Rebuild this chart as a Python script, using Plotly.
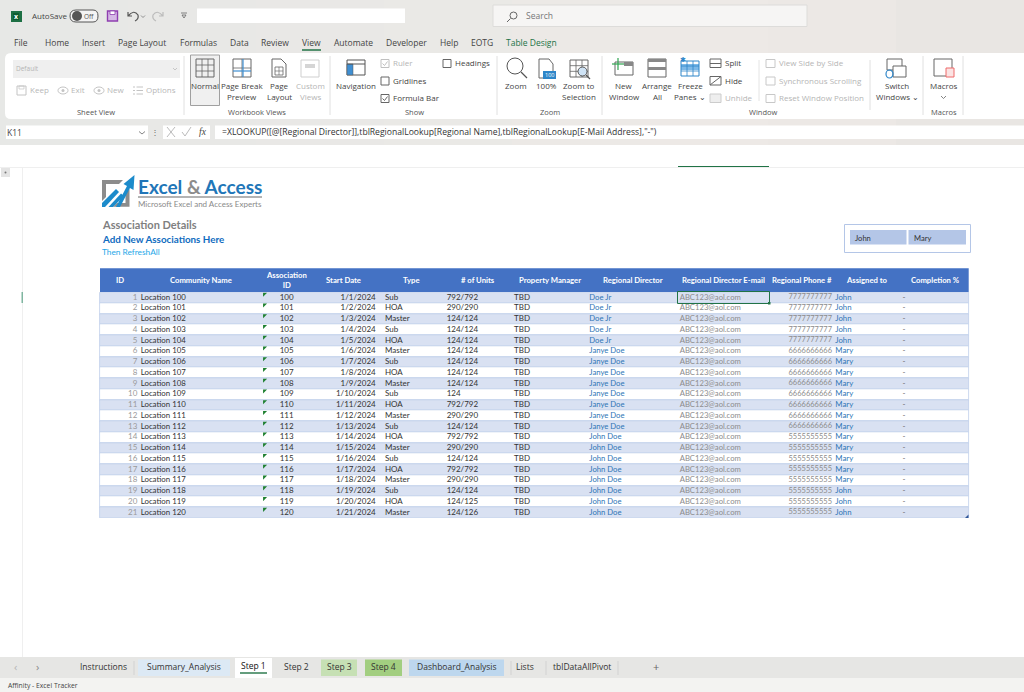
import plotly.graph_objects as go

# ---------- table data ----------
ids = list(range(1, 22))
communities = ["Location 100","Location 101","Location 102","Location 103","Location 104","Location 105","Location 106",
               "Location 107","Location 108","Location 109","Location 110","Location 111","Location 112","Location 113",
               "Location 114","Location 115","Location 116","Location 117","Location 118","Location 119","Location 120"]
assoc_ids = ["100","101","102","103","104","105","106","107","108","109","110","111","112","113","114","115","116","117","118","119","120"]
start_dates = ["1/1/2024","1/2/2024","1/3/2024","1/4/2024","1/5/2024","1/6/2024","1/7/2024","1/8/2024","1/9/2024","1/10/2024",
               "1/11/2024","1/12/2024","1/13/2024","1/14/2024","1/15/2024","1/16/2024","1/17/2024","1/18/2024","1/19/2024","1/20/2024","1/21/2024"]
types = ["Sub","HOA","Master","Sub","HOA","Master","Sub","HOA","Master","Sub","HOA","Master","Sub","HOA","Master","Sub","HOA","Master","Sub","HOA","Master"]
units = ["792/792","290/290","124/124","124/124","124/124","124/124","124/124","124/124","124/124","124","792/792","290/290",
         "124/124","792/792","290/290","124/124","792/792","290/290","124/124","124/125","124/126"]
managers = ["TBD"] * 21
directors = ["Doe Jr"] * 5 + ["Janye Doe"] * 8 + ["John Doe"] * 8
emails = ["ABC123@aol.com"] * 21
phones = ["7777777777"] * 5 + ["6666666666"] * 8 + ["5555555555"] * 8
assigned = ["John"] * 5 + ["Mary"] * 13 + ["John"] * 3
completion = ["-"] * 21
headers = ["ID","Community Name","Association<br>ID","Start Date","Type","# of Units","Property Manager","Regional Director",
           "Regional Director E-mail","Regional Phone #","Assigned to","Completion %"]
tabs = ["Instructions","Summary_Analysis","Step 1","Step 2","Step 3","Step 4","Dashboard_Analysis","Lists","tblDataAllPivot"]
menu = ["File","Home","Insert","Page Layout","Formulas","Data","Review","View","Automate","Developer","Help","EOTG","Table Design"]

# ---------- layout helpers ----------
W, H = 1024, 692
TL, TR, TOP, BOT = 100, 968.7, 292.2, 518.0
XL, UI = "Lato", "Open Sans"
shapes, notes = [], []

def rect(x0, y0, x1, y1, fill=None, line=None, lw=1, layer="below"):
    shapes.append(dict(type="rect", xref="x", yref="y", x0=x0, y0=y0, x1=x1, y1=y1, layer=layer,
                       fillcolor=fill or "rgba(0,0,0,0)", line=dict(color=line or "rgba(0,0,0,0)", width=lw if line else 0)))

def seg(x0, y0, x1, y1, color="#888", lw=1, layer="below"):
    shapes.append(dict(type="line", xref="x", yref="y", x0=x0, y0=y0, x1=x1, y1=y1, layer=layer, line=dict(color=color, width=lw)))

def path(d, fill=None, line=None, lw=1, layer="below"):
    shapes.append(dict(type="path", xref="x", yref="y", path=d, layer=layer, fillcolor=fill or "rgba(0,0,0,0)",
                       line=dict(color=line or "rgba(0,0,0,0)", width=lw if line else 0)))

def circle(x0, y0, x1, y1, fill=None, line=None, lw=1):
    shapes.append(dict(type="circle", xref="x", yref="y", x0=x0, y0=y0, x1=x1, y1=y1, layer="below",
                       fillcolor=fill or "rgba(0,0,0,0)", line=dict(color=line or "rgba(0,0,0,0)", width=lw if line else 0)))

def txt(x, y, s, size=8.5, color="#444", anchor="center", font=UI, bold=False):
    if bold:
        s = "<b>" + s + "</b>"
    if font == UI:
        y -= 0.6
    notes.append(dict(x=x, y=y, xref="x", yref="y", text=s, showarrow=False, xanchor=anchor, yanchor="middle", borderpad=0, borderwidth=0,
                      font=dict(size=size, color=color, family=font), align="center"))

DARK = "#444444"

# window background strips (slight warm drift to the right)
strips = ["#E7E8E6","#E8E8E6","#E9E8E6","#EAE9E6","#ECE9E6","#EDE9E6","#ECE8E5","#E9E6E3"]
for i, c in enumerate(strips):
    rect(i * W / 8, 0, (i + 1) * W / 8, 145, fill=c)

# title bar
rect(11, 11, 22, 22, fill="#1D7044")
rect(13, 13, 19, 20, fill="#0E5C2F")
txt(16, 16.8, "x", 7, "white", bold=True)
txt(32, 16.3, "AutoSave", 8, DARK, "left")
path("M 76 10 L 93 10 Q 98 10 98 16 Q 98 22 93 22 L 76 22 Q 70 22 70 16 Q 70 10 76 10 Z", fill="#F4F4F4", line="#555")
circle(72, 11, 82, 21, fill="#555")
txt(89, 16.6, "Off", 6.5, "#555")
rect(107.5, 11, 117.5, 21, fill="#D6B8E6", line="#8E3EB0", lw=1.4)
rect(110, 11, 115, 14.5, fill="white", line="#8E3EB0", lw=0.8)
path("M 128 12 L 128 16 L 132 16 M 128 16 Q 134 9 138 15 Q 139 19 135 21", line="#555", lw=1.2)
path("M 141 15.5 L 143 17.5 L 145 15.5", line="#777", lw=0.8)
path("M 163 12 L 163 16 L 159 16 M 163 16 Q 157 9 153 15 Q 152 19 156 21", line="#BBB", lw=1.2)
path("M 181 13 L 187 13 M 182 15 L 186 15 L 184 18 Z", line="#666", lw=0.8)
rect(197, 8.5, 405, 23, fill="white")
rect(493, 5, 807, 26.5, fill="#F6F5F4", line="#DDDCDA")
circle(510, 12, 517, 19, line="#666")
seg(510.5, 18.5, 507, 22, "#666")
txt(526, 16.5, "Search", 8.5, "#777", "left")

# menu row
menu_x = [21, 57, 93, 142, 198, 239, 275, 311, 353, 406, 449, 482, 531]
for m, x in zip(menu, menu_x):
    c = "#217346" if m == "Table Design" else DARK
    txt(x, 43, m, 8.5, c)
seg(302, 50, 321, 50, "#217346", 1.5)

# ribbon body
path("M 1024 53 L 11 53 Q 5 53 5 59 L 5 113 Q 5 119 11 119 L 1024 119 Z", fill="white")

# ribbon: sheet view
rect(13, 60, 180, 78, fill="#EFEFEF")
txt(16, 69, "Default", 6.5, "#B5B5B5", "left")
path("M 173 68 L 175 70 L 177 68", line="#BBB", lw=0.8)
for label, x in [("Keep", 30), ("Exit", 71), ("New", 107), ("Options", 146)]:
    txt(x, 90.5, label, 8, "#B8B8B8", "left")
rect(17, 86, 26, 95, line="#C4C4C4")
rect(19, 86, 24, 89, line="#C4C4C4", lw=0.7)
circle(58, 87, 68, 94, line="#C4C4C4"); circle(61.5, 89, 64.5, 92, fill="#C4C4C4")
circle(94, 87, 104, 94, line="#C4C4C4"); circle(97.5, 89, 100.5, 92, fill="#C4C4C4")
for y in [87, 90.5, 94]:
    seg(133, y, 135, y, "#C4C4C4"); seg(136.5, y, 143, y, "#C4C4C4")
# separators
for x in [184, 330, 497, 602, 923, 963]:
    seg(x, 56, x, 115, "#E0E0E0")
seg(759, 60, 759, 101, "#E4E4E4")
seg(870, 60, 870, 110, "#E0E0E0")
for label, x in [("Sheet View", 96), ("Workbook Views", 257), ("Show", 414), ("Zoom", 550), ("Window", 763), ("Macros", 944)]:
    txt(x, 113, label, 7.5, "#555")

# grid icon helper
def grid(x0, y0, x1, y1, nx, ny, color="#666", lw=1):
    rect(x0, y0, x1, y1, line=color, lw=lw)
    for i in range(1, nx):
        x = x0 + (x1 - x0) * i / nx
        seg(x, y0, x, y1, color, lw * 0.8)
    for j in range(1, ny):
        y = y0 + (y1 - y0) * j / ny
        seg(x0, y, x1, y, color, lw * 0.8)

# workbook views
rect(190.5, 55, 219.5, 105.5, fill="#F0F0F0", line="#A0A0A0")
grid(196, 59, 214, 77, 3, 3)
txt(205, 86, "Normal", 8, DARK)
grid(233, 59, 251, 77, 2, 2)
seg(233, 71, 251, 71, "#3F8FD2", 1.2); seg(243, 59, 243, 77, "#3F8FD2", 1.2)
txt(242, 86, "Page Break", 8, DARK); txt(242, 97, "Preview", 8, DARK)
path("M 272 59 L 281 59 L 286 64 L 286 77 L 272 77 Z", line="#666", fill="white")
grid(275, 67, 283, 75, 2, 2, lw=0.8)
txt(279, 86, "Page", 8, DARK); txt(279, 97, "Layout", 8, DARK)
grid(301, 60, 319, 77, 1, 1, color="#CFCFCF")
rect(305, 64, 315, 68, fill="#D5D5D5")
txt(310, 86, "Custom", 8, "#B5B5B5"); txt(310, 97, "Views", 8, "#B5B5B5")

# show
rect(347, 60, 365, 75, fill="white", line="#555")
rect(347, 64, 353, 75, fill="#3F8FD2", line="#555", lw=0.5)
seg(347, 64, 365, 64, "#555")
txt(356, 86, "Navigation", 8, DARK)
def check(x, y, on, color):
    rect(x, y, x + 8, y + 8, line=color, fill="white")
    if on:
        path(f"M {x+1.5} {y+4} L {x+3.5} {y+6} L {x+6.5} {y+2}", line=color, lw=1)
check(381, 59.5, True, "#C0C0C0"); txt(393, 63.5, "Ruler", 8, "#B5B5B5", "left")
check(381, 77, False, "#666"); txt(393, 81, "Gridlines", 8, DARK, "left")
check(381, 94.5, True, "#666"); txt(393, 98.5, "Formula Bar", 8, DARK, "left")
check(443, 59.5, False, "#666"); txt(455, 63.5, "Headings", 8, DARK, "left")

# zoom
circle(507, 58, 523, 74, line="#555")
seg(521, 72, 527, 78, "#555", 1.2)
txt(516, 86, "Zoom", 8, DARK)
path("M 539 59 L 549 59 L 553 64 L 553 78 L 539 78 Z", line="#666", fill="white")
rect(543, 71, 556, 79, fill="#2E86C9")
txt(549.5, 75.5, "100", 5.5, "white")
txt(546, 86, "100%", 8, DARK)
grid(570, 60, 588, 77, 3, 3)
circle(578, 67, 587, 76, fill="#CFE3F5", line="#555")
seg(586, 75, 590, 79, "#555", 1.2)
txt(579, 86, "Zoom to", 8, DARK); txt(579, 97, "Selection", 8, DARK)

# window
rect(615, 62, 633, 75, line="#666", fill="white")
rect(624, 62, 633, 66, fill="#888")
seg(618, 58, 618, 70, "#2EA44F", 1.2); seg(612, 64, 624, 64, "#2EA44F", 1.2)
txt(624, 86, "New", 8, DARK); txt(624, 97, "Window", 8, DARK)
rect(648, 59, 666, 77, line="#666", fill="white")
rect(648, 59, 666, 62, fill="#888"); rect(648, 67, 666, 70, fill="#888")
txt(657, 86, "Arrange", 8, DARK); txt(657, 97, "All", 8, DARK)
rect(681, 64, 699, 70, fill="#7DB9E8")
grid(681, 61, 699, 76, 3, 3, color="#2E86C9")
txt(683, 59.6, "✱", 7, "#2E86C9")
txt(690, 86, "Freeze", 8, DARK); txt(690, 97, "Panes ⌄", 8, DARK)
rect(710, 59, 721, 67.5, line="#666"); seg(710, 63.5, 721, 63.5, "#666")
txt(725, 63.5, "Split", 8, DARK, "left")
rect(710, 76.5, 721, 85, line="#666"); seg(710, 85, 721, 76.5, "#666")
txt(725, 81, "Hide", 8, DARK, "left")
rect(710, 94, 721, 102.5, line="#CCC", fill="#EEE")
txt(725, 98.5, "Unhide", 8, "#B5B5B5", "left")
for y, label in [(63.5, "View Side by Side"), (81, "Synchronous Scrolling"), (98.5, "Reset Window Position")]:
    rect(766, y - 4, 775, y + 4, line="#C8C8C8")
    txt(779, y, label, 8, "#B5B5B5", "left")
rect(887, 59, 902, 70, line="#666", fill="white")
rect(893, 66, 906, 77, line="#666", fill="white")
circle(886, 70, 893, 78, line="#2E86C9", lw=1.2)
txt(897, 86, "Switch", 8, DARK); txt(897, 97, "Windows ⌄", 8, DARK)
rect(934, 59, 952, 76, line="#666", fill="white")
rect(946, 68, 954, 77, line="#EE6A6A", fill="#FBE3E3")
txt(944, 86.5, "Macros", 8, DARK)
path("M 941 96 L 943.5 98.5 L 946 96", line="#666", lw=0.8)

# formula bar
rect(6, 125.5, 148, 139, fill="white")
txt(7, 132.8, "K11", 8.5, DARK, "left")
path("M 139 131.5 L 142 134 L 145 131.5", line="#666", lw=0.8)
txt(155, 132.5, "⋮", 8, "#666")
rect(163, 125.5, 210, 139, fill="white")
seg(167, 127, 175, 137, "#BBB"); seg(175, 127, 167, 137, "#BBB")
path("M 182 132 L 185 136 L 191 127", line="#BBB", lw=1)
txt(203, 132, "<i>fx</i>", 9.5, "#444", font="Liberation Serif")
rect(215, 125.5, 1024, 139, fill="white")
txt(222, 132.8, '=XLOOKUP([@[Regional Director]],tblRegionalLookup[Regional Name],tblRegionalLookup[E-Mail Address],"-")', 8.6, "#333", "left")

# sheet chrome
seg(0, 167.5, W, 167.5, "#EFEFEF")
seg(22.5, 167, 22.5, 657, "#EFEFEF")
seg(678, 166.5, 769, 166.5, "#217346", 1)
rect(21.5, 292, 23, 303, fill="#7FB5A0")
rect(1, 168, 10, 177, fill="#E4E4E4")
circle(4.5, 171.5, 6.5, 173.5, fill="#777")

# logo
GR, BL = "#8C8C8C", "#1C8BCB"
path("M 102 180 L 123 180 L 119 184 L 106 184 L 106 197 L 102 201 Z", fill=GR)
path("M 129.5 189 L 129.5 206.7 L 113 206.7 L 117 203 L 125.5 203 L 125.5 193 Z", fill=GR)
path("M 102 203 L 116 189 L 119 192 L 105 207 L 102 207 Z", fill=BL)
path("M 108.5 207 L 121 193.5 L 124 196 L 113 207 Z", fill=BL)
path("M 116 207 L 127 186 L 123.5 184 L 134.5 175 L 133.5 190 L 130 188 L 120 207 Z", fill=BL)
txt(138, 186.5, 'Excel <span style="color:#8C8C8C">&amp;</span> Access', 19, "#2176B8", "left", font=XL, bold=True)
seg(138, 197, 262, 197, "#9A9A9A", 1.4)
txt(138, 203.5, "Microsoft Excel and Access Experts", 8, "#8A8A8A", "left", font=XL)

# titles
txt(101.5, 224, "Association Details", 11, "#7F7F7F", "left", font=XL, bold=True)
txt(101.5, 239, "Add New Associations Here", 9.8, "#0F6CC0", "left", font=XL, bold=True)
txt(101.5, 252, "Then RefreshAll", 8.3, "#1FA8E8", "left", font=XL)

# slicer
rect(844.5, 224.5, 970.5, 252.5, fill="white", line="#B4C6E7")
rect(850, 230, 906.5, 244.5, fill="#B4C6E7")
rect(908.5, 230, 966, 244.5, fill="#B4C6E7")
txt(855, 237.5, "John", 7.6, "#333", "left", font=XL)
txt(914, 237.5, "Mary", 7.6, "#333", "left", font=XL)

# table header
rect(TL, 268.3, TR, TOP, fill="#4472C4")
header_x = [119.7, 201, 286.7, 343, 411, 478, 550, 632.7, 723, 801.7, 867, 934.7]
for h, x in zip(headers, header_x):
    txt(x, 280, h, 7.7, "white", font=XL, bold=True)

# selected-cell frame and handles
rect(677.5, 291.5, 769.5, 303.5, line="#217346", lw=1, layer="above")
rect(768, 302, 770.5, 304.5, fill="#217346", layer="above")
path("M 968.5 514.5 L 968.5 518 L 965 518 Z", fill="#2F5597", layer="above")

# tabs
rect(0, 657, W, 678, fill="#E6E6E4")
rect(0, 678, W, H, fill="#F3F3F1")
txt(15, 667.5, "‹", 11, "#B5B5B5"); txt(37, 667.5, "›", 11, "#888")
tab_x = [103, 184, 253.5, 296, 339, 383.5, 456.5, 525, 582]
tab_box = {"Summary_Analysis": (138, 230, "#DCE9F5"), "Step 1": (235, 272, "white"), "Step 3": (321, 357, "#C6E0B4"),
           "Step 4": (365, 402, "#A2CE80"), "Dashboard_Analysis": (409, 504, "#BDD7EE")}
for t, x in zip(tabs, tab_x):
    if t in tab_box:
        a, b, c = tab_box[t]
        rect(a, 659.5 if t != "Step 1" else 658, b, 678 if t == "Step 1" else 676, fill=c)
    txt(x, 667.5 if t != "Step 1" else 666.5, t, 8.5, "#333" if t != "Step 1" else "#111", font=UI)
seg(240, 673, 267, 673, "#217346", 1.4)
for x in [134, 511, 546, 618]:
    seg(x, 661, x, 675, "#D2D2D2")
txt(656, 667, "+", 11, "#666")
txt(8, 686.5, "Affinity - Excel Tracker", 6.8, "#444", "left")

# ---------- table marks (bound to a row axis) ----------
rows = ids
fig = go.Figure()
band = ["#D9E1F2" if r % 2 else "#FFFFFF" for r in rows]
fig.add_trace(go.Bar(y=rows, x=[TR - TL] * 21, base=TL, orientation="h", width=1, yaxis="y2",
                     marker=dict(color=band, line=dict(color="#BFCEEA", width=0.8)), showlegend=False))

columns = [
    (ids, 137.3, "middle left", "#9A9A9A", 8),
    (communities, 140.7, "middle right", "#333333", 7.85),
    (assoc_ids, 286.7, "middle center", "#333333", 8),
    (start_dates, 375.7, "middle left", "#333333", 8),
    (types, 385, "middle right", "#333333", 8),
    (units, 446.7, "middle right", "#333333", 8),
    (managers, 514, "middle right", "#333333", 8),
    (directors, 589.3, "middle right", "#2E75B6", 7.7),
    (emails, 679.7, "middle right", "#8C8C8C", 7.7),
    (phones, 832, "middle left", "#8C8C8C", 7.5),
    (assigned, 835.3, "middle right", "#2E75B6", 7.8),
    (completion, 904, "middle center", "#666666", 8),
]
for values, x, pos, color, size in columns:
    fig.add_trace(go.Scatter(x=[x] * len(values), y=rows, text=[str(v) for v in values], mode="text", yaxis="y2",
                             textposition=pos, textfont=dict(family=XL, size=size, color=color), showlegend=False, cliponaxis=False))
fig.add_trace(go.Scatter(x=[264.4] * 21, y=[r - 0.32 for r in rows], mode="markers", yaxis="y2", showlegend=False,
                         marker=dict(symbol="triangle-nw", size=4.5, color="#1E8030", line=dict(width=0))))

fig.update_layout(
    width=W, height=H, margin=dict(l=0, r=0, t=0, b=0), paper_bgcolor="white", plot_bgcolor="rgba(0,0,0,0)",
    hovermode=False, showlegend=False, shapes=shapes, annotations=notes, bargap=0,
    xaxis=dict(range=[0, W], visible=False, fixedrange=True, domain=[0, 1]),
    yaxis=dict(range=[H, 0], visible=False, fixedrange=True, domain=[0, 1]),
    yaxis2=dict(range=[21.5, 0.5], visible=False, fixedrange=True, domain=[1 - BOT / H, 1 - TOP / H], anchor="x"),
)
fig.write_html("out.html", config=dict(displayModeBar=False),
               post_script="document.body.style.margin='0';document.body.style.overflow='hidden';")
